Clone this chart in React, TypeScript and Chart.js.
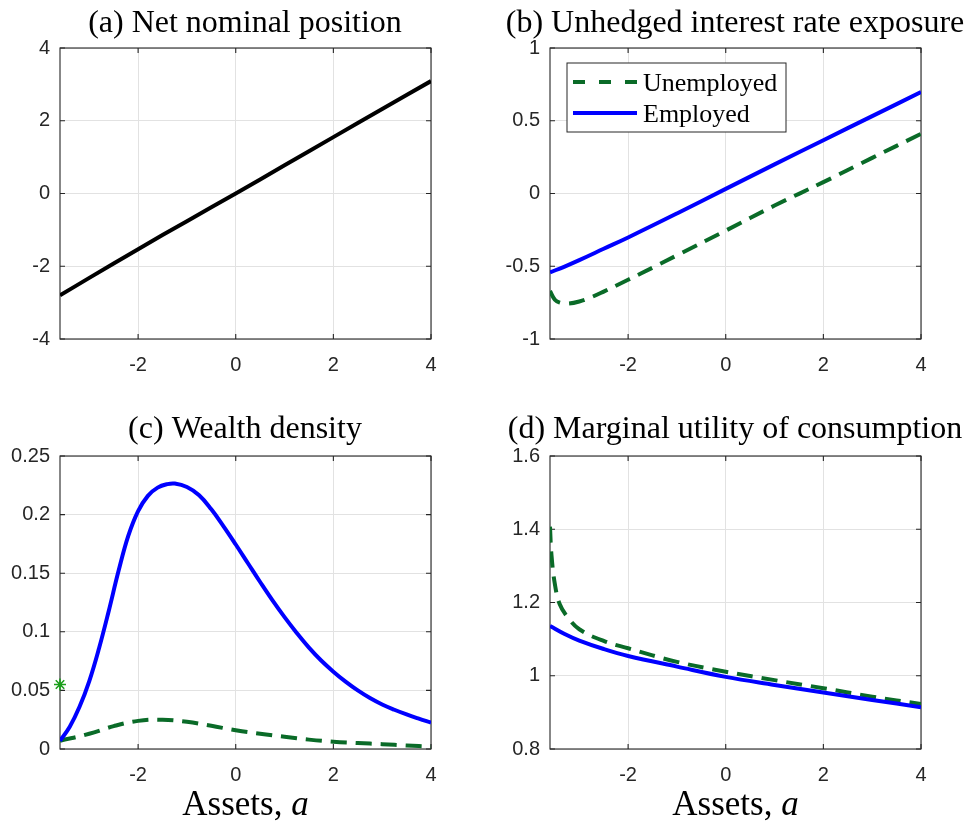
import React, { useEffect, useRef } from 'react';
import { Chart, registerables } from 'chart.js';

Chart.register(...registerables);

// ---- shared axis ----
const X_MIN = -3.6;
const X_MAX = 4;
const X_TICKS = [-2, 0, 2, 4];

// ---- (a) Net nominal position ----
const A_GRID = [-3.6, -3, -2, -1, 0, 1, 2, 3, 4];
const NET_POSITION = [-2.8, -2.32, -1.53, -0.76, 0, 0.775, 1.55, 2.32, 3.09];
const A_Y_TICKS = [-4, -2, 0, 2, 4];

// ---- (b) Unhedged interest rate exposure ----
const B_GRID_U = [-3.6, -3.5, -3.4, -3.25, -3.0, -2.75, -2.5, -2.0, -1.5, -1.0, 0, 1, 2, 3, 4];
const URE_UNEMPLOYED = [-0.67, -0.73, -0.75, -0.757, -0.742, -0.712, -0.674, -0.593, -0.51, -0.425, -0.255, -0.083, 0.078, 0.245, 0.41];
const B_GRID_E = [-3.6, -3.3, -3.0, -2.5, -2.0, -1.0, 0, 1, 2, 3, 4];
const URE_EMPLOYED = [-0.542, -0.502, -0.458, -0.38, -0.302, -0.137, 0.032, 0.2, 0.366, 0.532, 0.697];
const B_Y_TICKS = [-1, -0.5, 0, 0.5, 1];

// ---- (c) Wealth density ----
const C_GRID_E = [
  -3.6, -3.4, -3.2, -3.0, -2.8, -2.6, -2.4, -2.2, -2.0, -1.8, -1.6, -1.4, -1.25, -1.0, -0.75, -0.5, -0.25,
  0, 0.25, 0.5, 0.75, 1.0, 1.25, 1.5, 1.75, 2.0, 2.25, 2.5, 2.75, 3.0, 3.25, 3.5, 3.75, 4.0,
];
const DENSITY_EMPLOYED = [
  0.007, 0.019, 0.036, 0.058, 0.086, 0.118, 0.152, 0.182, 0.203, 0.216, 0.223, 0.226, 0.2265, 0.2235, 0.2165, 0.2045, 0.19,
  0.1745, 0.1585, 0.1425, 0.127, 0.1125, 0.099, 0.0865, 0.0755, 0.066, 0.0575, 0.05, 0.0435, 0.038, 0.0335, 0.0295, 0.0259, 0.0225,
];
const C_GRID_U = [-3.6, -3.0, -2.5, -2.0, -1.5, -1.0, -0.5, 0, 0.5, 1.0, 1.5, 2.0, 2.5, 3.0, 3.5, 4.0];
const DENSITY_UNEMPLOYED = [0.007, 0.013, 0.0195, 0.024, 0.025, 0.0232, 0.0198, 0.016, 0.013, 0.0105, 0.008, 0.0062, 0.0051, 0.0041, 0.003, 0.002];
const MASS_POINT_X = [-3.6];
const MASS_POINT_Y = [0.055];
const C_Y_TICKS = [0, 0.05, 0.1, 0.15, 0.2, 0.25];

// ---- (d) Marginal utility of consumption ----
const D_GRID_U = [-3.6, -3.57, -3.5, -3.4, -3.25, -3.0, -2.5, -2.0, -1.0, 0, 1, 2, 3, 4];
const MU_UNEMPLOYED = [1.407, 1.33, 1.25, 1.195, 1.162, 1.127, 1.095, 1.075, 1.038, 1.011, 0.988, 0.966, 0.943, 0.923];
const D_GRID_E = [-3.6, -3.3, -3.0, -2.5, -2.0, -1.0, 0, 1, 2, 3, 4];
const MU_EMPLOYED = [1.136, 1.114, 1.096, 1.073, 1.054, 1.025, 0.997, 0.975, 0.954, 0.934, 0.914];
const D_Y_TICKS = [0.8, 1, 1.2, 1.4, 1.6];

const LABEL_UNEMPLOYED = 'Unemployed';
const LABEL_EMPLOYED = 'Employed';

// ---- styling ----
const AXIS_COLOR = '#262626';
const GRID_COLOR = '#e2e2e2';
const BLUE = '#0000ff';
const DARK_GREEN = '#0a6b28';
const STAR_GREEN = '#1b9e1b';
const SERIF = '"Liberation Serif", "Times New Roman", serif';
const SANS = '"Liberation Sans", Arial, Helvetica, sans-serif';
const DASH = [16, 9];
const LEGEND_DASH = [12, 14];

const pairs = (xs: number[], ys: number[]) => xs.map((x, i) => ({ x, y: ys[i] }));
const fmt = (v: number) => parseFloat(Number(v).toFixed(3)).toString();

const solid = (label: string, xs: number[], ys: number[], color: string, order = 1) => ({
  label,
  data: pairs(xs, ys),
  borderColor: color,
  backgroundColor: color,
  borderWidth: 4,
  pointRadius: 0,
  fill: false,
  tension: 0.4,
  order,
  inLegend: true,
});

const dashed = (label: string, xs: number[], ys: number[], color: string, order = 2) => ({
  ...solid(label, xs, ys, color, order),
  borderDash: DASH,
  legendDash: LEGEND_DASH,
});

// box around the axes with inward tick marks on all four sides
const axesBox = {
  id: 'axesBox',
  beforeDatasetsDraw(chart: any) {
    const { ctx, chartArea } = chart;
    const { left, top, right, bottom } = chartArea;
    const xs = chart.scales.x;
    const ys = chart.scales.y;
    const len = 5;
    ctx.save();
    ctx.strokeStyle = AXIS_COLOR;
    ctx.lineWidth = 1.1;
    ctx.beginPath();
    xs.ticks.forEach((t: any) => {
      const px = xs.getPixelForValue(t.value);
      ctx.moveTo(px, bottom);
      ctx.lineTo(px, bottom - len);
      ctx.moveTo(px, top);
      ctx.lineTo(px, top + len);
    });
    ys.ticks.forEach((t: any) => {
      const py = ys.getPixelForValue(t.value);
      ctx.moveTo(left, py);
      ctx.lineTo(left + len, py);
      ctx.moveTo(right, py);
      ctx.lineTo(right - len, py);
    });
    ctx.stroke();
    ctx.strokeRect(left, top, right - left, bottom - top);
    ctx.restore();
  },
};

// framed legend in the upper-left corner of the plot area
const boxedLegend = {
  id: 'boxedLegend',
  afterDatasetsDraw(chart: any) {
    const { ctx, chartArea } = chart;
    const items = chart.data.datasets.filter((d: any) => d.inLegend);
    const bx = chartArea.left + 17;
    const by = chartArea.top + 15;
    const bw = 219;
    const bh = 69;
    ctx.save();
    ctx.fillStyle = '#ffffff';
    ctx.fillRect(bx, by, bw, bh);
    ctx.strokeStyle = AXIS_COLOR;
    ctx.lineWidth = 1;
    ctx.strokeRect(bx, by, bw, bh);
    items.forEach((d: any, i: number) => {
      const ly = by + 19 + i * 31;
      ctx.strokeStyle = d.borderColor;
      ctx.lineWidth = d.borderWidth;
      ctx.setLineDash(d.legendDash || []);
      ctx.beginPath();
      ctx.moveTo(bx + 6, ly);
      ctx.lineTo(bx + 70, ly);
      ctx.stroke();
      ctx.setLineDash([]);
      ctx.fillStyle = '#000000';
      ctx.font = `26px ${SERIF}`;
      ctx.textAlign = 'left';
      ctx.textBaseline = 'alphabetic';
      ctx.fillText(d.label, bx + 76, ly + 8.5);
    });
    ctx.restore();
  },
};

// x-axis caption with an italic variable name
const assetsLabel = {
  id: 'assetsLabel',
  afterDraw(chart: any) {
    const { ctx, chartArea } = chart;
    const cx = (chartArea.left + chartArea.right) / 2;
    const baseline = chart.height - 6;
    const head = 'Assets, ';
    const sym = 'a';
    ctx.save();
    ctx.fillStyle = '#000000';
    ctx.textBaseline = 'alphabetic';
    ctx.textAlign = 'left';
    ctx.font = `35px ${SERIF}`;
    const w1 = ctx.measureText(head).width;
    ctx.font = `italic 35px ${SERIF}`;
    const w2 = ctx.measureText(sym).width;
    const x0 = cx - (w1 + w2) / 2;
    ctx.font = `35px ${SERIF}`;
    ctx.fillText(head, x0, baseline);
    ctx.font = `italic 35px ${SERIF}`;
    ctx.fillText(sym, x0 + w1, baseline);
    ctx.restore();
  },
};

type PanelSpec = {
  key: string;
  title: string;
  left: number;
  top: number;
  width: number;
  height: number;
  yAxisWidth: number;
  xAxisHeight: number;
  rightMargin: number;
  titlePad: { top: number; bottom: number };
  yMin: number;
  yMax: number;
  yTicks: number[];
  datasets: any[];
  legend?: boolean;
  xCaption?: boolean;
};

const PANELS: PanelSpec[] = [
  {
    key: 'a',
    title: '(a) Net nominal position',
    left: 0, top: 0, width: 490, height: 400,
    yAxisWidth: 60, xAxisHeight: 61, rightMargin: 59,
    titlePad: { top: 8, bottom: 8 },
    yMin: -4, yMax: 4, yTicks: A_Y_TICKS,
    datasets: [solid('Net nominal position', A_GRID, NET_POSITION, '#000000')],
  },
  {
    key: 'b',
    title: '(b) Unhedged interest rate exposure',
    left: 497, top: 0, width: 476, height: 400,
    yAxisWidth: 53, xAxisHeight: 61, rightMargin: 52,
    titlePad: { top: 8, bottom: 8 },
    yMin: -1, yMax: 1, yTicks: B_Y_TICKS,
    datasets: [
      dashed(LABEL_UNEMPLOYED, B_GRID_U, URE_UNEMPLOYED, DARK_GREEN),
      solid(LABEL_EMPLOYED, B_GRID_E, URE_EMPLOYED, BLUE),
    ],
    legend: true,
  },
  {
    key: 'c',
    title: '(c) Wealth density',
    left: 0, top: 400, width: 490, height: 421,
    yAxisWidth: 60, xAxisHeight: 72, rightMargin: 59,
    titlePad: { top: 14, bottom: 10 },
    yMin: 0, yMax: 0.25, yTicks: C_Y_TICKS,
    datasets: [
      dashed(LABEL_UNEMPLOYED, C_GRID_U, DENSITY_UNEMPLOYED, DARK_GREEN),
      solid(LABEL_EMPLOYED, C_GRID_E, DENSITY_EMPLOYED, BLUE),
      {
        label: 'Mass point',
        data: pairs(MASS_POINT_X, MASS_POINT_Y),
        showLine: false,
        pointStyle: 'star',
        pointRadius: 6,
        borderColor: STAR_GREEN,
        backgroundColor: STAR_GREEN,
        pointBorderWidth: 1.6,
        borderWidth: 1.6,
        clip: false,
        order: 0,
      },
    ],
    xCaption: true,
  },
  {
    key: 'd',
    title: '(d) Marginal utility of consumption',
    left: 497, top: 400, width: 476, height: 421,
    yAxisWidth: 53, xAxisHeight: 72, rightMargin: 52,
    titlePad: { top: 14, bottom: 10 },
    yMin: 0.8, yMax: 1.6, yTicks: D_Y_TICKS,
    datasets: [
      dashed(LABEL_UNEMPLOYED, D_GRID_U, MU_UNEMPLOYED, DARK_GREEN),
      solid(LABEL_EMPLOYED, D_GRID_E, MU_EMPLOYED, BLUE),
    ],
    xCaption: true,
  },
];

function buildConfig(p: PanelSpec): any {
  const plugins: any[] = [axesBox];
  if (p.legend) plugins.push(boxedLegend);
  if (p.xCaption) plugins.push(assetsLabel);
  const tickFont = { family: SANS, size: 20 };
  return {
    type: 'line',
    data: { datasets: p.datasets },
    plugins,
    options: {
      responsive: false,
      animation: false,
      events: [],
      layout: { padding: 0 },
      plugins: {
        legend: { display: false },
        tooltip: { enabled: false },
        title: {
          display: true,
          text: p.title,
          color: '#000000',
          font: { family: SERIF, size: 32, weight: 'normal', lineHeight: 1 },
          padding: p.titlePad,
        },
      },
      scales: {
        x: {
          type: 'linear',
          min: X_MIN,
          max: X_MAX,
          afterBuildTicks: (s: any) => {
            s.ticks = X_TICKS.map((v) => ({ value: v }));
          },
          afterFit: (s: any) => {
            s.height = p.xAxisHeight;
          },
          grid: { color: GRID_COLOR, lineWidth: 1, drawTicks: false },
          border: { display: false },
          ticks: {
            color: AXIS_COLOR,
            font: tickFont,
            padding: 14,
            maxRotation: 0,
            autoSkip: false,
            callback: (v: number) => fmt(v),
          },
        },
        y: {
          type: 'linear',
          min: p.yMin,
          max: p.yMax,
          afterBuildTicks: (s: any) => {
            s.ticks = p.yTicks.map((v) => ({ value: v }));
          },
          afterFit: (s: any) => {
            s.width = p.yAxisWidth;
          },
          grid: { color: GRID_COLOR, lineWidth: 1, drawTicks: false },
          border: { display: false },
          ticks: {
            color: AXIS_COLOR,
            font: tickFont,
            padding: 10,
            autoSkip: false,
            callback: (v: number) => fmt(v),
          },
        },
        // empty right-hand gutter so the title stays centred over the plot box
        gutter: {
          type: 'linear',
          position: 'right',
          display: true,
          min: p.yMin,
          max: p.yMax,
          afterFit: (s: any) => {
            s.width = p.rightMargin;
          },
          grid: { display: false, drawTicks: false },
          border: { display: false },
          ticks: { display: false },
        },
      },
    },
  };
}

export default function App() {
  const refs = useRef<(HTMLCanvasElement | null)[]>([]);

  useEffect(() => {
    const charts = PANELS.map((p, i) => {
      const canvas = refs.current[i] as HTMLCanvasElement;
      return new Chart(canvas, buildConfig(p));
    });
    return () => charts.forEach((c) => c.destroy());
  }, []);

  return (
    <div
      style={{
        position: 'absolute',
        left: 0,
        top: 0,
        width: 973,
        height: 821,
        background: '#ffffff',
        overflow: 'hidden',
      }}
    >
      {PANELS.map((p, i) => (
        <canvas
          key={p.key}
          ref={(el) => {
            refs.current[i] = el;
          }}
          width={p.width}
          height={p.height}
          style={{
            position: 'absolute',
            left: p.left,
            top: p.top,
            width: p.width,
            height: p.height,
          }}
        />
      ))}
    </div>
  );
}
